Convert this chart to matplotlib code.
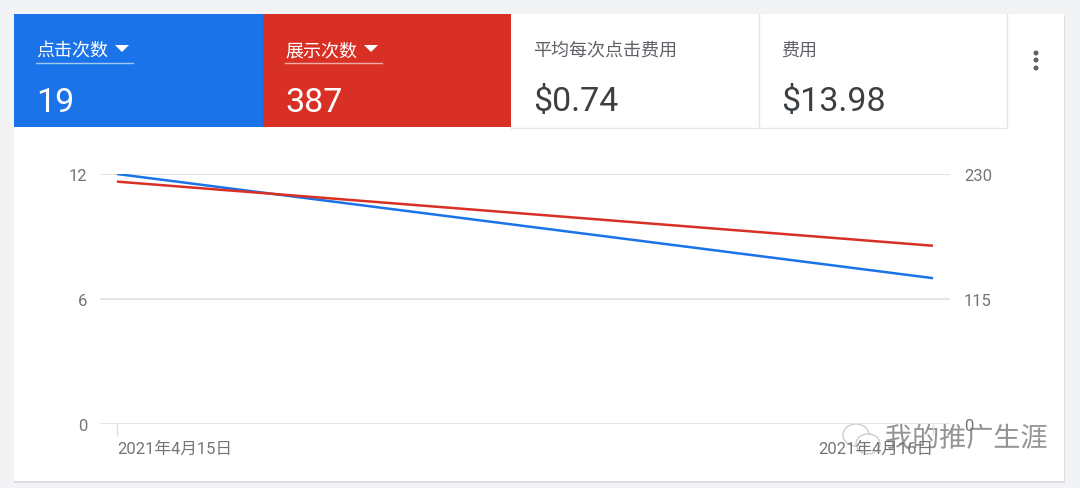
import matplotlib
matplotlib.use("Agg")
import matplotlib.pyplot as plt
from matplotlib.patches import Rectangle, Polygon, Ellipse
import matplotlib.patheffects as pe

plt.rcParams['font.family'] = ['Roboto', 'Noto Sans CJK SC', 'DejaVu Sans']

# ---- data ----
dates = ['2021年4月15日', '2021年4月16日']
clicks = [12, 7]
impressions = [223, 164]
left_ticks = [0, 6, 12]
right_ticks = [0, 115, 230]
metric_titles = ['点击次数', '展示次数', '平均每次点击费用', '费用']
metric_values = ['19', '387', '$0.74', '$13.98']

BLUE = '#1a73e8'
RED = '#d93025'
W, H = 1080, 489
fig = plt.figure(figsize=(W / 100, H / 100), dpi=100)
fig.patch.set_facecolor('#f1f3f4')

# background canvas in pixel coords
bg = fig.add_axes([0, 0, 1, 1])
bg.set_xlim(0, W)
bg.set_ylim(H, 0)
bg.axis('off')

# card shadow + card
bg.add_patch(Rectangle((14, 16), 1051, 468, facecolor='#dadce0', edgecolor='none'))
bg.add_patch(Rectangle((14, 15), 1050, 467, facecolor='white', edgecolor='none'))

# metric tiles
tile_x = [14, 263, 511, 759]
tile_w = 248
fills = [BLUE, RED, 'white', 'white']
for i, x0 in enumerate(tile_x):
    bg.add_patch(Rectangle((x0, 15), tile_w + (1 if i < 2 else 0), 113, facecolor=fills[i], edgecolor='none'))
# dividers for white tiles
bg.plot([759, 759], [15, 128], color='#e6e6e6', lw=1)
bg.plot([1006.5, 1006.5], [15, 128], color='#e6e6e6', lw=1)
bg.plot([511, 1006.5], [128.5, 128.5], color='#e6e6e6', lw=1)

for i, x0 in enumerate(tile_x):
    on_color = i < 2
    tcol = 'white' if on_color else '#5f6368'
    vcol = 'white' if on_color else '#3c4043'
    bg.text(x0 + 22, 51, metric_titles[i], color=tcol, fontsize=13, va='center', ha='left')
    bg.text(x0 + 22, 99, metric_values[i], color=vcol, fontsize=24.5, va='center_baseline', ha='left')
    if on_color:
        # underline + dropdown triangle
        bg.plot([x0 + 22, x0 + 119], [64, 64], color='white', alpha=0.6, lw=1)
        bg.add_patch(Polygon([[x0 + 101, 46], [x0 + 115, 46], [x0 + 108, 53]],
                             closed=True, facecolor='white', edgecolor='none'))

# kebab menu
for yy in [54, 61, 69]:
    bg.add_patch(Ellipse((1036, yy), 5, 5, facecolor='#5f6368', edgecolor='none'))

# ---- chart ----
ax_left, ax_right, ax_top, ax_bot = 100, 950, 175, 425
ax = fig.add_axes([ax_left / W, 1 - ax_bot / H, (ax_right - ax_left) / W, (ax_bot - ax_top) / H])
ax.patch.set_alpha(0)
x = list(range(len(dates)))
pad = 17 / 816
ax.set_xlim(-pad, 1 + pad)
ax.set_ylim(0, 12)
ax.set_yticks(left_ticks)
ax.set_yticklabels([str(t) for t in left_ticks])
ax.grid(axis='y', color='#e0e0e0', lw=1.2)
ax.set_axisbelow(True)
for s in ax.spines.values():
    s.set_visible(False)
ax.tick_params(axis='y', length=0, pad=9, labelsize=12, labelcolor='#757575')
ax.set_xticks(x)
ax.set_xticklabels(dates)
ax.tick_params(axis='x', length=8, width=1, color='#dadce0', pad=4, labelsize=12, labelcolor='#757575')
lbls = ax.get_xticklabels()
lbls[0].set_ha('left')
lbls[-1].set_ha('right')

ax2 = ax.twinx()
ax2.set_ylim(0, 230)
ax2.set_yticks(right_ticks)
ax2.set_yticklabels([str(t) for t in right_ticks])
for s in ax2.spines.values():
    s.set_visible(False)
ax2.tick_params(axis='y', length=0, pad=10, labelsize=12, labelcolor='#757575')

ax2.plot(x, impressions, color=RED, lw=1.8, solid_capstyle='butt', zorder=3)
ax.plot(x, clicks, color=BLUE, lw=1.8, solid_capstyle='butt', zorder=3)

# watermark
wm = bg.text(885, 440, '我的推广生涯', fontsize=19.5, color='#8a8a8a', va='center', ha='left',
             family=['Noto Sans CJK SC'], alpha=0.9)
wm.set_path_effects([pe.withStroke(linewidth=2, foreground='white')])
bg.add_patch(Ellipse((856, 436), 26, 22, facecolor='white', edgecolor='#c8c8c8', lw=1, alpha=0.9))
bg.add_patch(Ellipse((868, 445), 24, 20, facecolor='white', edgecolor='#c8c8c8', lw=1, alpha=0.9))

fig.savefig('out.png', dpi=100, facecolor=fig.get_facecolor())
